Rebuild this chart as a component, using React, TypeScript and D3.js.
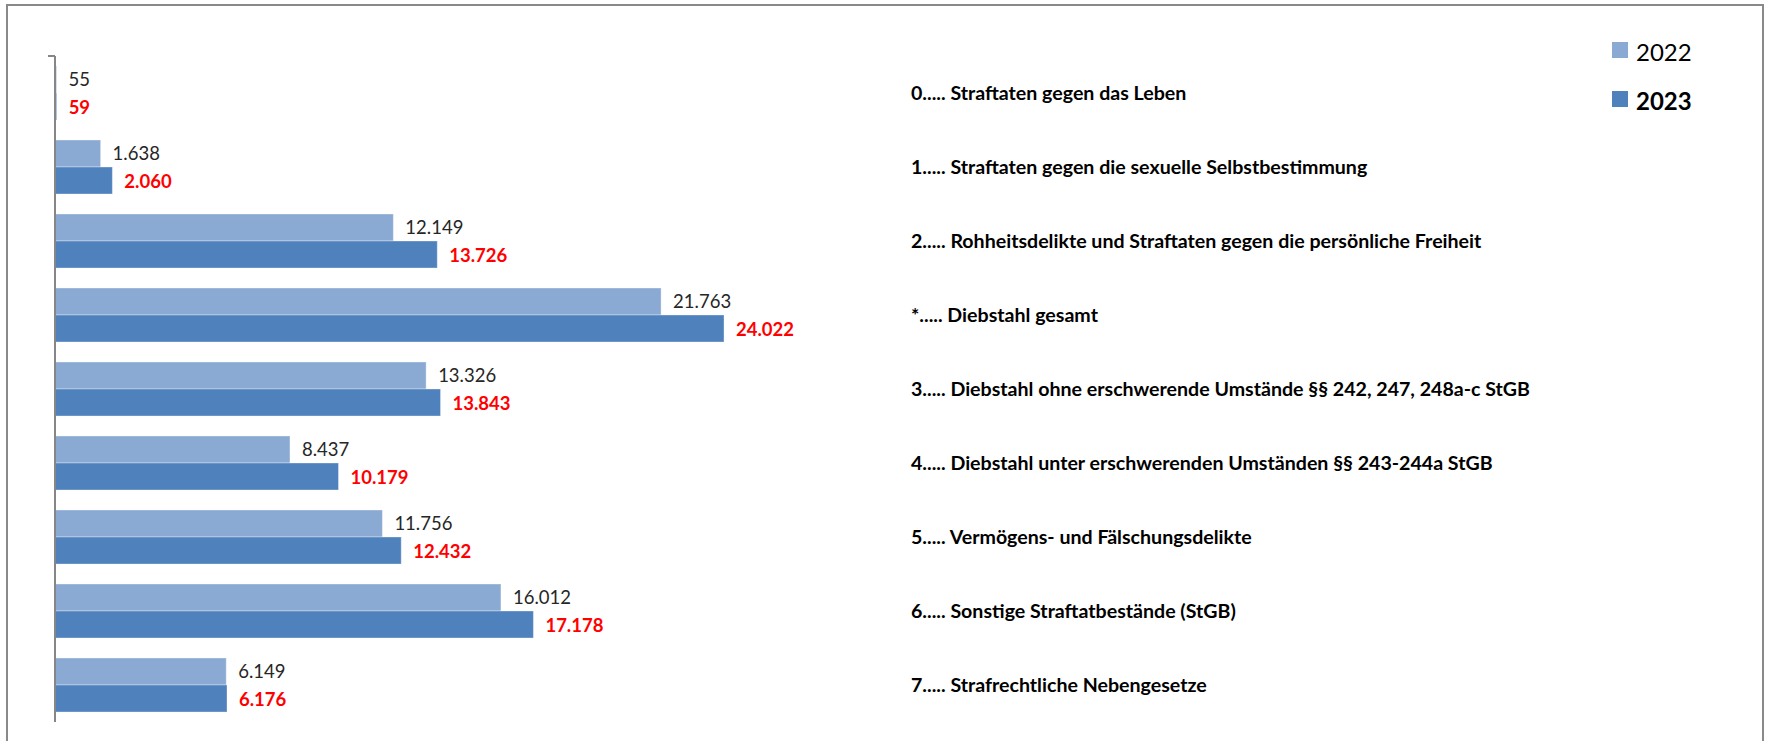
import React from 'react';
import * as d3 from 'd3';

const categories = [
  '0..... Straftaten gegen das Leben',
  '1..... Straftaten gegen die sexuelle Selbstbestimmung',
  '2..... Rohheitsdelikte und Straftaten gegen die persönliche Freiheit',
  '*..... Diebstahl gesamt',
  '3..... Diebstahl ohne erschwerende Umstände §§ 242, 247, 248a-c StGB',
  '4..... Diebstahl unter erschwerenden Umständen §§ 243-244a StGB',
  '5..... Vermögens- und Fälschungsdelikte',
  '6..... Sonstige Straftatbestände (StGB)',
  '7..... Strafrechtliche Nebengesetze',
];
const values2022 = [55, 1638, 12149, 21763, 13326, 8437, 11756, 16012, 6149];
const values2023 = [59, 2060, 13726, 24022, 13843, 10179, 12432, 17178, 6176];
const seriesNames = ['2022', '2023'];

const W = 1767;
const H = 741;
const font = 'Lato, "Open Sans", sans-serif';
const colors = ['#8BAAD3', '#4F81BD'];

const de = d3.formatLocale({ decimal: ',', thousands: '.', grouping: [3], currency: ['', ' €'] });
const fmt = de.format(',d');

const App: React.FC = () => {
  const axisX = 55;
  const top = 56;
  const bottom = 722;

  const x = d3.scaleLinear().domain([0, 30000]).range([axisX, axisX + 835.5]);
  const y = d3.scaleBand<number>()
    .domain(categories.map((_, i) => i))
    .range([top, bottom])
    .paddingInner(0.27)
    .paddingOuter(0.135);
  const sub = d3.scaleBand<number>().domain([0, 1]).range([0, y.bandwidth()]);

  const series = [values2022, values2023];

  return (
    <svg width={W} height={H} style={{ position: 'absolute', left: 0, top: 0, background: '#fff' }}>
      <rect x={0} y={0} width={W} height={H} fill="#fff" />
      {/* frame */}
      <path d={`M7,${H + 2} V5 H1763 V${H + 2}`} fill="none" stroke="#898989" strokeWidth={2} />

      {/* bars */}
      {series.map((vals, s) => (
        <g key={s}>
          {vals.map((v, i) => {
            const by = (y(i) || 0) + (sub(s) || 0);
            const bh = sub.bandwidth();
            return (
              <g key={i}>
                <rect
                  x={axisX}
                  y={by}
                  width={x(v) - axisX}
                  height={bh}
                  fill={colors[s]}
                  stroke="rgba(255,255,255,0.35)"
                  strokeWidth={1}
                />
                <text
                  x={x(v) + 12}
                  y={by + bh / 2 + 7}
                  fontFamily={font}
                  fontSize={18.5}
                  fontWeight={s === 1 ? 700 : 400}
                  fill={s === 1 ? '#FF0000' : '#262626'}
                >
                  {fmt(v)}
                </text>
              </g>
            );
          })}
        </g>
      ))}

      {/* axis */}
      <line x1={axisX} x2={axisX} y1={top} y2={bottom} stroke="#868686" strokeWidth={2} />
      <line x1={48} x2={axisX} y1={top} y2={top} stroke="#868686" strokeWidth={2} />

      {/* category labels */}
      {categories.map((c, i) => (
        <text
          key={c}
          x={911}
          y={(y(i) || 0) + y.bandwidth() / 2 + 7}
          fontFamily={font}
          fontSize={19.6}
          fontWeight={700}
          fill="#000"
        >
          {c}
        </text>
      ))}

      {/* legend */}
      {seriesNames.map((n, s) => (
        <g key={n} transform={`translate(1612, ${42 + s * 49})`}>
          <rect x={0} y={0} width={16} height={16} fill={colors[s]} />
          <text
            x={24}
            y={18.5}
            fontFamily={font}
            fontSize={24}
            fontWeight={s === 1 ? 700 : 400}
            fill="#000"
          >
            {n}
          </text>
        </g>
      ))}
    </svg>
  );
};

export default App;
